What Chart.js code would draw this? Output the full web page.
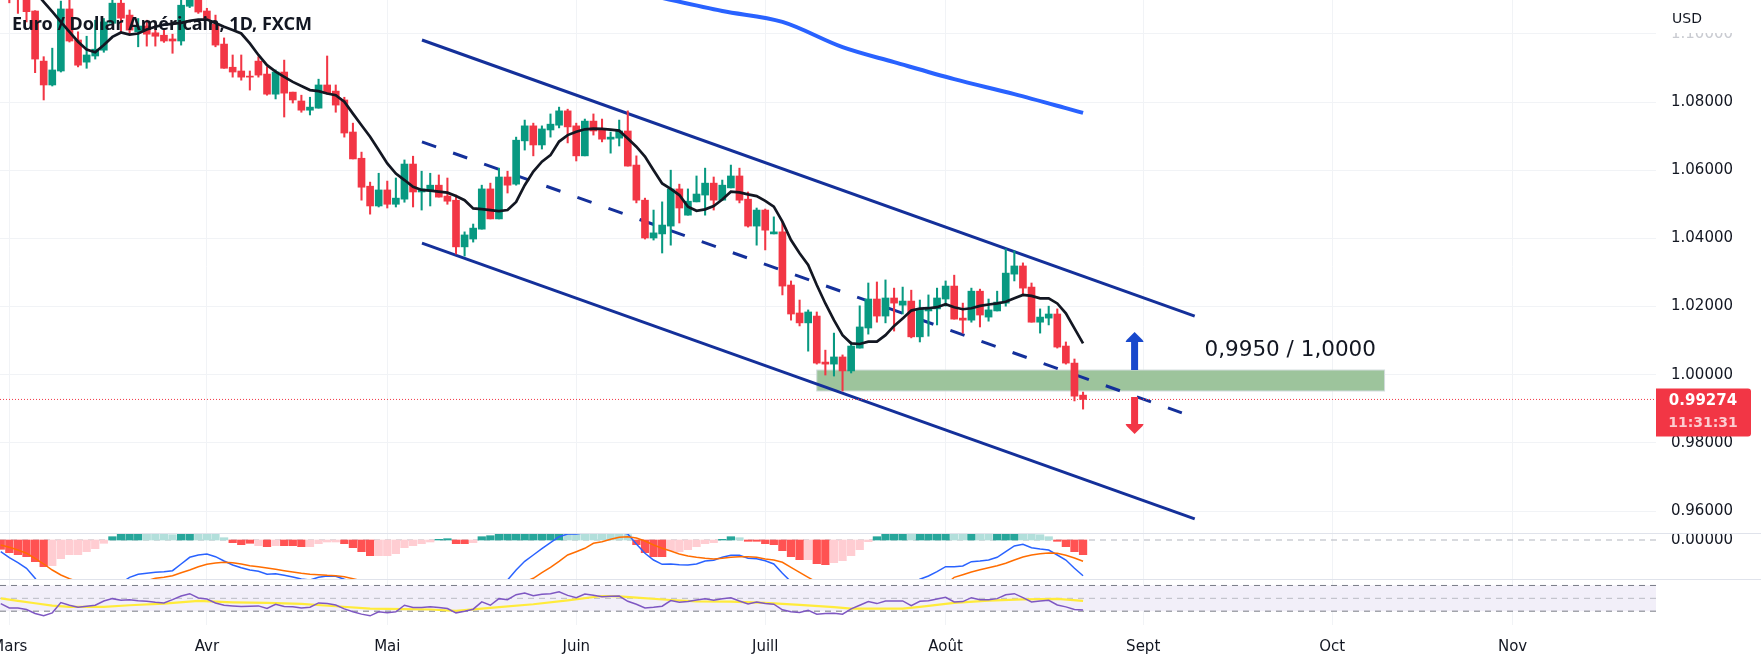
<!DOCTYPE html>
<html lang="fr">
<head>
<meta charset="utf-8">
<title>Euro / Dollar Américain, 1D, FXCM</title>
<script src="https://cdn.jsdelivr.net/npm/chart.js@4"></script>
<style>
  html, body { margin: 0; padding: 0; background: #fff; overflow: hidden; }
  #wrap { position: relative; width: 1761px; height: 667px; }
  canvas { position: absolute; left: 0; }
  .sep { position: absolute; left: 0; width: 1761px; height: 1px; background: #e0e3eb; }
</style>
</head>
<body>
<div id="wrap">
  <canvas id="mainChart" width="1761" height="533" style="top:0"></canvas>
  <div class="sep" style="top:533px"></div>
  <canvas id="macdChart" width="1761" height="45" style="top:534px"></canvas>
  <div class="sep" style="top:579px"></div>
  <canvas id="rsiChart" width="1761" height="87" style="top:580px"></canvas>
</div>
<script>
// candles, one per trading day, index 0 is the 1st of March
const opens = [
  1.1130,1.1150,1.1140,1.1067,1.0920,1.0850,1.0891,1.1073,1.0982,1.0917,
  1.0935,1.0952,1.1031,1.1090,1.1055,1.1006,1.1023,1.1003,1.0996,1.0985,
  1.0979,1.1081,1.1108,1.1067,1.1029,1.0970,1.0902,1.0891,1.0876,1.0920,
  1.0882,1.0823,1.0888,1.0829,1.0803,1.0776,1.0782,1.0850,1.0832,1.0806,
  1.0712,1.0635,1.0553,1.0495,1.0542,1.0500,1.0515,1.0618,1.0536,1.0539,
  1.0556,1.0524,1.0512,1.0375,1.0398,1.0427,1.0545,1.0457,1.0580,1.0559,
  1.0686,1.0730,1.0674,1.0718,1.0732,1.0774,1.0730,1.0642,1.0744,1.0718,
  1.0691,1.0694,1.0715,1.0615,1.0512,1.0401,1.0413,1.0436,1.0545,1.0468,
  1.0507,1.0527,1.0562,1.0512,1.0548,1.0583,1.0515,1.0436,1.0483,1.0413,
  1.0419,1.0263,1.0181,1.0152,1.0172,1.0037,1.0031,1.0052,1.0011,1.0078,
  1.0137,1.0222,1.0172,1.0225,1.0204,1.0216,1.0111,1.0187,1.0193,1.0222,
  1.0260,1.0166,1.0160,1.0245,1.0169,1.0187,1.0210,1.0295,1.0319,1.0257,
  1.0154,1.0166,1.0178,1.0084,1.0034,0.9940,
];
const closes = [
  1.1102,1.1110,1.1065,1.0926,1.0850,1.0894,1.1073,1.0979,1.0908,1.0938,
  1.0955,1.1035,1.1090,1.1046,1.1011,1.1023,1.0999,1.0993,1.0979,1.0979,
  1.1084,1.1105,1.1064,1.1042,1.0967,1.0899,1.0888,1.0873,1.0873,1.0879,
  1.0823,1.0888,1.0826,1.0806,1.0776,1.0785,1.0850,1.0826,1.0791,1.0709,
  1.0633,1.0550,1.0495,1.0542,1.0500,1.0518,1.0618,1.0536,1.0545,1.0556,
  1.0521,1.0509,1.0375,1.0410,1.0430,1.0545,1.0457,1.0580,1.0556,1.0688,
  1.0730,1.0674,1.0721,1.0735,1.0774,1.0727,1.0642,1.0744,1.0715,1.0691,
  1.0697,1.0715,1.0612,1.0512,1.0401,1.0416,1.0439,1.0545,1.0489,1.0509,
  1.0530,1.0562,1.0512,1.0556,1.0583,1.0512,1.0436,1.0483,1.0424,1.0419,
  1.0260,1.0178,1.0152,1.0184,1.0034,1.0031,1.0052,1.0011,1.0084,1.0140,
  1.0222,1.0172,1.0225,1.0210,1.0216,1.0111,1.0193,1.0196,1.0225,1.0260,
  1.0163,1.0160,1.0245,1.0175,1.0190,1.0213,1.0298,1.0319,1.0254,1.0154,
  1.0169,1.0178,1.0081,1.0034,0.9937,0.99274,
];
const highs = [
  1.1145,1.1170,1.1150,1.1068,1.0933,1.0958,1.1096,1.1105,1.1006,1.0993,
  1.1040,1.1045,1.1110,1.1115,1.1070,1.1045,1.1040,1.1026,1.1011,1.0999,
  1.1105,1.1125,1.1120,1.1075,1.1055,1.0988,1.0938,1.0938,1.0891,1.0933,
  1.0903,1.0894,1.0923,1.0829,1.0820,1.0814,1.0867,1.0935,1.0850,1.0814,
  1.0738,1.0653,1.0565,1.0591,1.0568,1.0577,1.0630,1.0641,1.0597,1.0591,
  1.0586,1.0577,1.0527,1.0419,1.0442,1.0556,1.0562,1.0606,1.0597,1.0697,
  1.0747,1.0738,1.0730,1.0765,1.0785,1.0779,1.0738,1.0750,1.0765,1.0750,
  1.0712,1.0747,1.0774,1.0642,1.0518,1.0483,1.0507,1.0600,1.0559,1.0545,
  1.0583,1.0606,1.0580,1.0571,1.0615,1.0606,1.0536,1.0489,1.0486,1.0463,
  1.0448,1.0275,1.0219,1.0190,1.0184,1.0072,1.0122,1.0058,1.0096,1.0202,
  1.0269,1.0272,1.0278,1.0254,1.0257,1.0248,1.0219,1.0234,1.0254,1.0275,
  1.0292,1.0210,1.0254,1.0251,1.0222,1.0245,1.0369,1.0363,1.0328,1.0269,
  1.0193,1.0201,1.0193,1.0096,1.0046,0.9949,
];
const lows = [
  1.1091,1.1060,1.1035,1.0886,1.0806,1.0847,1.0888,1.0976,1.0903,1.0899,
  1.0926,1.0946,1.1029,1.1001,1.1001,1.0962,1.0964,1.0964,1.0975,1.0943,
  1.0967,1.1077,1.1060,1.1042,1.0962,1.0899,1.0873,1.0864,1.0835,1.0873,
  1.0820,1.0809,1.0756,1.0797,1.0770,1.0762,1.0782,1.0823,1.0770,1.0697,
  1.0633,1.0512,1.0471,1.0492,1.0489,1.0492,1.0506,1.0492,1.0483,1.0495,
  1.0521,1.0500,1.0354,1.0348,1.0389,1.0427,1.0457,1.0457,1.0533,1.0556,
  1.0659,1.0642,1.0662,1.0697,1.0724,1.0680,1.0627,1.0642,1.0703,1.0683,
  1.0650,1.0671,1.0612,1.0504,1.0398,1.0395,1.0357,1.0380,1.0445,1.0468,
  1.0507,1.0468,1.0483,1.0512,1.0548,1.0504,1.0433,1.0380,1.0366,1.0413,
  1.0234,1.0160,1.0143,1.0069,1.0031,0.9999,0.9996,0.9952,1.0005,1.0078,
  1.0119,1.0154,1.0152,1.0128,1.0178,1.0108,1.0096,1.0113,1.0146,1.0201,
  1.0163,1.0122,1.0154,1.0140,1.0157,1.0187,1.0201,1.0275,1.0237,1.0154,
  1.0122,1.0146,1.0078,1.0031,0.9923,0.9899,
];

// short moving average, starts at candle 3
const maStart = 3;
const maShort = [
  1.1123,1.1094,1.1065,1.1035,1.1006,1.0977,1.0954,1.0946,1.0967,1.0991,
  1.1004,1.0998,1.1001,1.1013,1.1021,1.1027,1.1029,1.1032,1.1038,1.1042,
  1.1042,1.1032,1.1021,1.1011,1.1001,1.0972,1.0938,1.0908,1.0889,1.0874,
  1.0859,1.0847,1.0835,1.0832,1.0825,1.0820,1.0801,1.0766,1.0732,1.0698,
  1.0659,1.0620,1.0590,1.0571,1.0551,1.0542,1.0540,1.0537,1.0534,1.0524,
  1.0512,1.0488,1.0486,1.0483,1.0480,1.0483,1.0507,1.0556,1.0596,1.0625,
  1.0644,1.0684,1.0703,1.0713,1.0720,1.0722,1.0721,1.0719,1.0716,1.0693,
  1.0669,1.0640,1.0600,1.0561,1.0545,1.0527,1.0493,1.0481,1.0485,1.0495,
  1.0514,1.0537,1.0535,1.0529,1.0524,1.0510,1.0493,1.0449,1.0395,1.0356,
  1.0322,1.0263,1.0209,1.0160,1.0116,1.0092,1.0090,1.0097,1.0097,1.0116,
  1.0143,1.0165,1.0188,1.0194,1.0195,1.0198,1.0207,1.0198,1.0192,1.0195,
  1.0202,1.0206,1.0209,1.0214,1.0224,1.0234,1.0231,1.0224,1.0224,1.0209,
  1.0180,1.0136,1.0092,
];
// long moving average, read at a few candles
const maLongIdx = [75,83,90,97,103,110,117,123,125];
const maLong = [1.1111,1.1067,1.1035,1.0961,1.0917,1.0867,1.0823,1.0782,1.0768];

// channel lines [startIdx, endIdx] and [startPrice, endPrice]
const channelIdx = [48.04, 138];
const channelUpper = [1.0982, 1.0172];
const channelLower = [1.0386, 0.9577];
const channelMidIdx = [48.04, 136.5];
const channelMid = [1.0683, 0.9888];

// support zone and arrows
const zoneIdx = [94, 160.1];
const zonePrices = [0.99521, 1.00137];
const zoneLabel = "0,9950 / 1,0000";
const arrowIdx = 131;
const arrowUp = [1.0014, 1.0125];
const arrowDown = [0.99345, 0.98259];

const lastPrice = 0.99274;
const countdown = "11:31:31";
const title = "Euro / Dollar Américain, 1D, FXCM";

// MACD pane, in pips, index -1 is the first bar
const macdStart = -1;
const macdHist = [
  -9.3,-12.7,-14.7,-16.7,-21.7,-26.7,-25.7,-18.7,-14.7,-14.7,-11.7,-8.7,-3.3,
  3.3,7,8.5,9.5,9,8,7,5.3,7,8.5,8,7,6.3,2.3,
  -2.7,-4.7,-3.3,-5.7,-6.7,-5.7,-5.7,-5.7,-6.7,-6.7,-3.7,-2,-2,-3.7,-7.7,-11.7,-15.7,-15.7,-15.7,-13.7,-7.7,-5.7,-3.7,-2,
  0.7,1.3,-3.7,-3.7,-2.7,3.3,4.3,6.5,8,9.5,10.5,11.5,12,12.5,12.5,
  11.5,10.5,9.5,8.5,7.5,6.5,6,5.3,-4.7,-12.7,-16.7,-16.7,-10.7,-11.7,-9.7,-6.7,-3.7,-2.7,
  0.7,3.3,2.3,-1.3,-1.3,-3.7,-4.7,-10.7,-16.7,-19.7,-19.7,-23.7,-24.7,-22.7,-20.7,-15.7,-9.7,-1.7,
  3.3,7.5,9,10.5,9.5,10,10.5,11,11.5,10.5,9.5,10,9,8.5,9,9.5,10,9,7.5,5.3,3.3,
  -1.3,-6.7,-11.7,-14.7,
];
// 1 = saturated colour, 0 = pale colour
const macdHistStrong = [
  1,1,1,1,1,1,0,0,0,0,0,0,0,
  1,1,1,1,0,0,0,0,1,1,0,0,0,0,
  1,1,1,0,1,0,1,1,1,0,0,0,0,1,1,1,1,0,0,0,0,0,0,0,
  1,1,1,1,0,1,1,1,1,1,1,1,1,1,1,
  0,0,0,0,0,0,0,0,1,1,1,1,0,0,0,0,0,0,
  1,1,0,1,1,1,1,1,1,1,0,1,1,0,0,0,0,0,
  1,1,1,1,0,1,1,1,1,0,0,1,0,0,1,1,1,0,0,0,0,
  1,1,1,1,
];
const macdLine = [
  -11.7,-17.7,-22.7,-28.3,-38.3,-50,-61.7,-70,-75,-76.7,-75,-70,-63.3,-53.3,-43.3,-37.3,
  -34.3,-33.3,-32.3,-31.7,-30.7,-24,-17.3,-15,-14,-16.7,-21,-25,-27.7,-30,-31.3,-34.3,
  -33.7,-35.3,-37,-39,-40,-37.3,-36,-36.3,-39.3,-41.7,-46.7,-55,-61.7,-68.3,-71.7,-71.7,
  -70,-66.7,-63.3,-60,-56.7,-55,-53.3,-51.7,-48.3,-45,-43.3,-40,-30,-21.3,-15,-8.7,
  -2.7,3.3,6,6,7.3,8,8.3,8.3,7.7,6,-4,-13.3,-20,-24.3,-24,-24.7,-25,-24,-21,-20.3,
  -17.3,-15.3,-15.3,-18.3,-18.7,-20.7,-24,-33.3,-41.7,-50,-58.3,-66.7,-73.3,-78.3,-80,
  -78.3,-75,-70,-65,-58.3,-53.3,-46.7,-43.3,-39.3,-36,-31.7,-26.7,-26.7,-26,-21.7,-21,
  -20,-17.3,-11.7,-6,-4.3,-7.7,-9,-10,-15,-20,-28.3,-35.7,
];
const macdSignal = [
  -5,-7.3,-10,-13.3,-18.3,-24,-30,-35,-38.7,-41.7,-45,-47.3,-48.3,-49,-48.3,-46,
  -43.3,-40.7,-38.3,-37.3,-35.7,-32.7,-30,-26.7,-24.3,-23,-22.3,-22.7,-24,-25.7,-26.7,-28,
  -29.3,-30.7,-32,-33.3,-34.3,-34.7,-35.3,-35.7,-36.7,-38.7,-40.7,-43.3,-46,-48.7,-50.7,-52.7,
  -54,-54.7,-55,-54.7,-54,-53.3,-52.7,-51.7,-50,-48.3,-46.7,-45,-43.3,-41.7,-38.3,-32.7,
  -27.3,-21.3,-15,-11.7,-8.3,-3.3,-1.7,0.7,2.7,3.3,2,-1,-5,-8.3,-11,-14,-16,-17.3,
  -18.3,-19,-18.3,-17.3,-16.7,-16.7,-17.3,-19,-20,-22.3,-27.3,-32.3,-37.3,-42.3,-46.7,-50.7,
  -55,-58.3,-60.7,-62.7,-64,-64,-62.7,-60.7,-58.3,-55,-51.7,-48.3,-45,-37.3,-34.7,-32,
  -29.7,-27.7,-25.7,-23.3,-20,-17,-15,-13.7,-13,-13.3,-15.3,-18,-21.3,
];

// RSI pane
const rsiStart = -1;
const rsiValues = [
  41.8,35.1,35.1,32.6,26.4,22.8,27.4,43.3,39.2,36.2,37.7,39.2,45.9,49.5,46.9,47.9,
  46.4,45.4,43.8,42.8,47.9,53.6,57.2,50.5,49,42.8,39.2,38.2,37.2,37.7,38.2,34.1,
  40.8,37.2,36.7,35.1,36.2,42.8,41.8,39.7,33.6,29,25.4,22.8,29,27.4,29,39.2,
  35.6,35.6,36.7,35.6,34.1,27.4,30,33.1,44.4,39.2,49.5,47.9,55.6,58.2,54.1,56.2,
  57.2,60.3,54.6,51,56.7,54.6,52.6,53.1,53.6,45.4,40.8,35.1,36.2,37.7,46.4,43.8,
  44.9,47.4,49.5,46.9,49.5,51,45.9,41.3,44.4,41.8,40.8,32.1,29,27.9,31.5,25.4,
  26.4,26.9,25.4,33.6,39.2,44.9,41.8,45.9,45.9,45.9,38.7,45.4,46.4,49,51.5,44.4,
  44.9,51,47.9,47.9,49.5,55.6,57.2,51,44.4,45.9,46.9,39.7,36.7,32.6,32,
];
const rsiMaIdx = [-1,1,3,5,7,11,14,18,22,26,30,34,38,42,46,49,52,57,61,65,69,71,73,77,80,84,88,92,96,98,104,106,110,114,118,122,125];
const rsiMa = [50,45.9,42.3,38.7,36.7,36.7,39.2,41.8,45.9,43.8,42.8,41.3,37.7,34.1,33.1,32.6,30.5,36.2,40.8,46.9,53.6,53.1,51,47.4,45.4,44.9,42.8,39.7,36.2,34.1,34.1,36.7,42.8,46.4,48.5,49,45.9];
const rsiLevels = [70, 50, 30];

// time axis
const monthLabels = ["Mars", "Avr", "Mai", "Juin", "Juill", "Août", "Sept", "Oct", "Nov"];
const monthStartIdx = [0, 23, 44, 66, 88, 109, 132, 154, 175];

// price axis
const priceTicks = [0.96, 0.98, 1.0, 1.02, 1.04, 1.06, 1.08, 1.1];

const X_MIN = -1.086;
const X_MAX = 191.7;
const AXIS_W = 105;
const FONT = '"DejaVu Sans", sans-serif';
const TEXT = "#131722";
const GRID = "#f1f3f6";
const GREEN = "#089981";
const RED = "#f23645";
const NAVY = "#14309a";

const idx = opens.map((_, i) => i);
const pts = (xs, ys) => xs.map((x, i) => ({ x, y: ys[i] }));
const run = (start, ys) => ys.map((y, i) => ({ x: start + i, y }));

// the panes must line up, so no scale may ask for label room
function noPadding(s) {
  s.paddingLeft = s.paddingRight = s.paddingTop = s.paddingBottom = 0;
}

function xAxis(height, showLabels) {
  return {
    type: "linear",
    min: X_MIN,
    max: X_MAX,
    offset: false,
    border: { display: false },
    grid: { color: GRID, drawTicks: false, offset: false },
    afterBuildTicks: (s) => { s.ticks = monthStartIdx.map((value) => ({ value })); },
    afterFit: (s) => { s.height = height; noPadding(s); },
    ticks: {
      display: showLabels,
      autoSkip: false,
      maxRotation: 0,
      padding: 13,
      color: TEXT,
      font: { family: FONT, size: 15 },
      callback: (v) => monthLabels[monthStartIdx.indexOf(v)],
    },
  };
}

function yAxis(min, max, ticks, fmt, color) {
  return {
    position: "right",
    min,
    max,
    border: { display: false },
    grid: { color: GRID, drawTicks: false, display: ticks.length > 1 },
    afterBuildTicks: (s) => { s.ticks = ticks.map((value) => ({ value })); },
    afterFit: (s) => { s.width = AXIS_W; noPadding(s); },
    ticks: {
      display: ticks.length > 0,
      padding: 15,
      color: color || TEXT,
      font: { family: FONT, size: 15 },
      callback: fmt,
    },
  };
}

function baseOptions(x, y) {
  return {
    responsive: false,
    animation: false,
    devicePixelRatio: 1,
    events: [],
    layout: { padding: 0, autoPadding: false },
    plugins: { legend: { display: false }, tooltip: { enabled: false } },
    scales: { x, y },
  };
}

const lineDs = (data, color, width, order, dash) => ({
  type: "line",
  data,
  borderColor: color,
  borderWidth: width,
  borderDash: dash || [],
  pointRadius: 0,
  tension: 0,
  order,
});

function arrow(ctx, x, y0, y1, color) {
  const dir = y1 < y0 ? 1 : -1;
  ctx.fillStyle = color;
  ctx.beginPath();
  ctx.moveTo(x - 3.5, y0);
  ctx.lineTo(x - 3.5, y1 + dir * 10);
  ctx.lineTo(x - 9, y1 + dir * 10);
  ctx.lineTo(x - 8, y1 + dir * 8);
  ctx.lineTo(x, y1);
  ctx.lineTo(x + 8, y1 + dir * 8);
  ctx.lineTo(x + 9, y1 + dir * 10);
  ctx.lineTo(x + 3.5, y1 + dir * 10);
  ctx.lineTo(x + 3.5, y0);
  ctx.closePath();
  ctx.fill();
}

const zonePlugin = {
  id: "zone",
  beforeDatasetsDraw(chart) {
    const { ctx, scales: { x, y } } = chart;
    const left = x.getPixelForValue(zoneIdx[0]);
    const right = x.getPixelForValue(zoneIdx[1]);
    const top = y.getPixelForValue(zonePrices[1]);
    const bottom = y.getPixelForValue(zonePrices[0]);
    ctx.save();
    ctx.fillStyle = "#9dc49c";
    ctx.strokeStyle = "#d3dcdd";
    ctx.fillRect(left, top, right - left, bottom - top);
    ctx.strokeRect(left, top, right - left, bottom - top);
    ctx.restore();
  },
};

const overlayPlugin = {
  id: "overlay",
  afterDraw(chart) {
    const { ctx, chartArea, scales: { x, y } } = chart;
    const priceY = y.getPixelForValue(lastPrice);
    ctx.save();

    // last price line
    ctx.strokeStyle = RED;
    ctx.lineWidth = 1;
    ctx.setLineDash([1, 2]);
    ctx.beginPath();
    ctx.moveTo(0, priceY);
    ctx.lineTo(chartArea.right, priceY);
    ctx.stroke();
    ctx.setLineDash([]);

    // arrows
    const ax = x.getPixelForValue(arrowIdx);
    arrow(ctx, ax, y.getPixelForValue(arrowUp[0]), y.getPixelForValue(arrowUp[1]), "#1848cc");
    arrow(ctx, ax, y.getPixelForValue(arrowDown[0]), y.getPixelForValue(arrowDown[1]), RED);

    // zone label
    ctx.fillStyle = TEXT;
    ctx.font = '21.5px ' + FONT;
    ctx.textBaseline = "middle";
    ctx.textAlign = "left";
    ctx.fillText(zoneLabel, x.getPixelForValue(zoneIdx[1]) - 180, y.getPixelForValue(zonePrices[1]) - 20);

    // title
    ctx.font = 'bold 18px "Noto Sans", sans-serif';
    ctx.fillText(title, 12, 25);

    // currency header hides the top half of the faded tick
    ctx.fillStyle = "#fff";
    ctx.fillRect(chartArea.right, 0, AXIS_W, 33);
    ctx.fillStyle = TEXT;
    ctx.font = '14px ' + FONT;
    ctx.fillText("USD", 1672, 19);

    // last price tag
    ctx.fillStyle = RED;
    ctx.beginPath();
    ctx.roundRect(chartArea.right, priceY - 11, 95, 48, [0, 3, 3, 0]);
    ctx.fill();
    ctx.textAlign = "center";
    ctx.fillStyle = "#fff";
    ctx.font = 'bold 15px ' + FONT;
    ctx.fillText(lastPrice.toFixed(5), 1703, priceY + 2);
    ctx.fillStyle = "rgba(255,255,255,0.75)";
    ctx.font = 'bold 14px ' + FONT;
    ctx.fillText(countdown, 1703, priceY + 24);
    ctx.restore();
  },
};

const bandPlugin = {
  id: "band",
  beforeDatasetsDraw(chart) {
    const { ctx, chartArea, scales: { y } } = chart;
    const top = y.getPixelForValue(rsiLevels[0]);
    const bottom = y.getPixelForValue(rsiLevels[2]);
    ctx.save();
    ctx.fillStyle = "#f2eff9";
    ctx.fillRect(chartArea.left, top, chartArea.right - chartArea.left, bottom - top);
    ctx.restore();
  },
};

new Chart(document.getElementById("mainChart"), {
  type: "bar",
  data: {
    datasets: [
      lineDs(pts(channelIdx, channelUpper), NAVY, 3, 6),
      lineDs(pts(channelIdx, channelLower), NAVY, 3, 6),
      lineDs(pts(channelMidIdx, channelMid), NAVY, 3, 6, [15, 18]),
      {
        data: idx.map((i) => ({ x: i, y: [lows[i], highs[i]] })),
        backgroundColor: idx.map((i) => (closes[i] >= opens[i] ? GREEN : RED)),
        barThickness: 1.4,
        grouped: false,
        order: 5,
      },
      {
        data: idx.map((i) => ({ x: i, y: [opens[i], closes[i]] })),
        backgroundColor: idx.map((i) => (closes[i] >= opens[i] ? GREEN : RED)),
        barThickness: 7,
        grouped: false,
        order: 4,
      },
      lineDs(run(maStart, maShort), "#131722", 2.7, 3),
      { ...lineDs(pts(maLongIdx, maLong), "#2962ff", 4, 2), cubicInterpolationMode: "monotone" },
    ],
  },
  options: baseOptions(
    xAxis(0, false),
    yAxis(0.95355, 1.10993, priceTicks, (v) => v.toFixed(5),
      (c) => (c.tick && c.tick.value > 1.09 ? "#c9cbd1" : TEXT))
  ),
  plugins: [zonePlugin, overlayPlugin],
});

const HIST_UP = ["#b2dfdb", "#26a69a"];
const HIST_DOWN = ["#ffcdd2", "#ff5252"];

new Chart(document.getElementById("macdChart"), {
  type: "bar",
  data: {
    datasets: [
      lineDs(pts([X_MIN, X_MAX], [0, 0]), "#b2b5be", 1, 5, [6, 5]),
      {
        data: run(macdStart, macdHist),
        backgroundColor: macdHist.map((v, i) => (v >= 0 ? HIST_UP : HIST_DOWN)[macdHistStrong[i]]),
        barThickness: 7.6,
        grouped: false,
        order: 4,
      },
      lineDs(run(macdStart, macdLine), "#2962ff", 1.5, 3),
      lineDs(run(macdStart, macdSignal), "#ff6d00", 1.5, 2),
    ],
  },
  options: baseOptions(xAxis(0, false), yAxis(-39, 6, [0], () => "0.00000")),
});

new Chart(document.getElementById("rsiChart"), {
  type: "line",
  data: {
    datasets: [
      ...rsiLevels.map((lvl, i) => lineDs(pts([X_MIN, X_MAX], [lvl, lvl]), i === 1 ? "#b9bbc3" : "#787b86", 1, 5, [6, 5])),
      lineDs(pts(rsiMaIdx, rsiMa), "#ffeb3b", 2.2, 3),
      lineDs(run(rsiStart, rsiValues), "#7e57c2", 1.5, 2),
    ],
  },
  options: baseOptions(xAxis(42, true), yAxis(8.5, 78.5, [], () => "")),
  plugins: [bandPlugin],
});
</script>
</body>
</html>
